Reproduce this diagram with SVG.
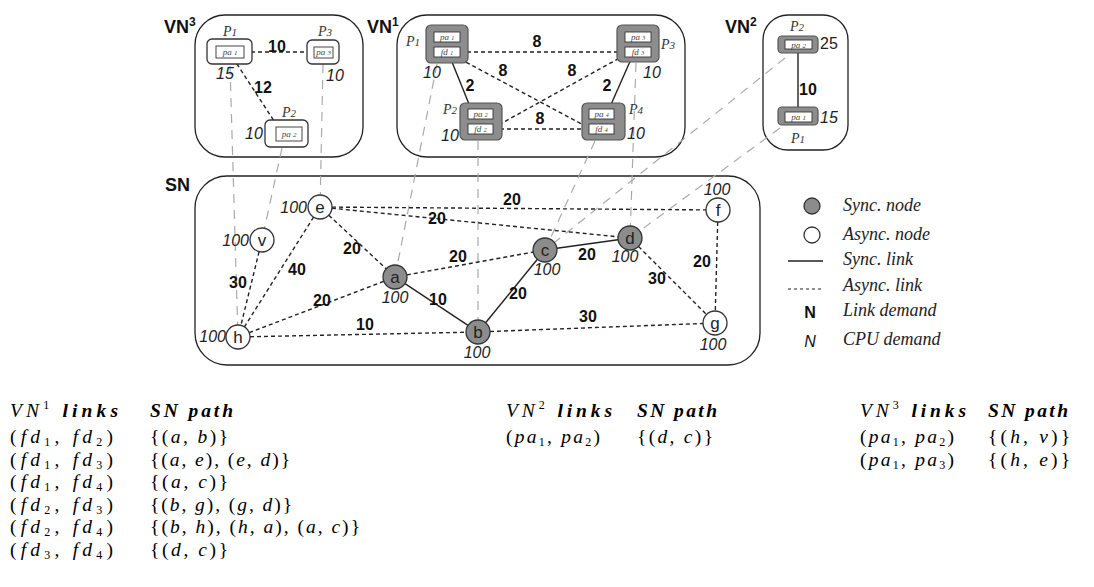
<svg xmlns="http://www.w3.org/2000/svg" width="1094" height="587" viewBox="0 0 1094 587">
<style>
.bg{fill:#fff}
.cont{fill:none;stroke:#222;stroke-width:1.3}
.title{font-family:"Liberation Sans",Arial,sans-serif;font-weight:bold;font-size:18px;fill:#111}
.sup{font-size:12px}
.wbox{fill:#fff;stroke:#333;stroke-width:1.3}
.gbox{fill:#8d8d8d;stroke:#555;stroke-width:1.2}
.ibox{fill:#fff;stroke:#333;stroke-width:0.9}
.plab{font-family:"Liberation Serif","DejaVu Serif",serif;font-style:italic;font-size:14px;fill:#333;text-anchor:middle}
.pin{font-family:"Liberation Serif","DejaVu Serif",serif;font-style:italic;font-size:9px;fill:#444;text-anchor:middle}
.cpu{font-family:"Liberation Sans",Arial,sans-serif;font-style:italic;font-size:16px;fill:#222}
.lnk{font-family:"Liberation Sans",Arial,sans-serif;font-weight:bold;font-size:16px;fill:#111;text-anchor:middle}
.sync{fill:#8c8c8c;stroke:#333;stroke-width:1.3}
.async{fill:#fff;stroke:#333;stroke-width:1.3}
.nl{font-family:"Liberation Sans",Arial,sans-serif;font-size:17px;fill:#222;text-anchor:middle}
.solid{stroke:#222;stroke-width:1.4;fill:none}
.dash{stroke:#222;stroke-width:1.4;fill:none;stroke-dasharray:4 3}
.map{stroke:#aaa;stroke-width:1.2;fill:none;stroke-dasharray:9 7}
.leg{font-family:"Liberation Serif","DejaVu Serif",serif;font-style:italic;font-size:18px;fill:#222}
.m{font-family:"Liberation Serif","DejaVu Serif",serif;font-size:19.5px;fill:#000}
.mi{font-style:italic}
.sub{font-size:12px}
.hb{font-weight:bold;font-style:italic}
</style>
<rect class="bg" x="0" y="0" width="1094" height="587"/>

<!-- containers -->
<g id="vn3">
  <rect class="cont" x="195" y="15" width="168" height="142" rx="30"/>
  <text class="title" x="164" y="33">VN<tspan class="sup" dy="-7">3</tspan></text>
</g>
<g id="vn1">
  <rect class="cont" x="397" y="15" width="288" height="142" rx="30"/>
  <text class="title" x="367" y="33">VN<tspan class="sup" dy="-7">1</tspan></text>
</g>
<g id="vn2">
  <rect class="cont" x="763" y="15" width="85" height="135" rx="25"/>
  <text class="title" x="725" y="33">VN<tspan class="sup" dy="-7">2</tspan></text>
</g>
<g id="sn">
  <rect class="cont" x="195" y="176" width="565" height="189" rx="32"/>
  <text class="title" x="165" y="191">SN</text>
</g>

<!-- connectors -->
<g id="connectors">
  <!-- mapping lines -->
  <line class="map" x1="230" y1="66" x2="237.6" y2="325"/>
  <line class="map" x1="323" y1="64" x2="320.3" y2="195"/>
  <line class="map" x1="282" y1="148" x2="264.5" y2="228.3"/>
  <line class="map" x1="437" y1="64" x2="397.3" y2="265.2"/>
  <line class="map" x1="478" y1="141" x2="478" y2="320"/>
  <line class="map" x1="595" y1="141" x2="550" y2="239.1"/>
  <line class="map" x1="636" y1="63" x2="630.4" y2="226"/>
  <line class="map" x1="785" y1="58" x2="554.4" y2="242.5"/>
  <line class="map" x1="780" y1="128" x2="639.7" y2="230.9"/>
  <!-- VN3 links -->
  <line class="dash" x1="244" y1="52" x2="314" y2="52"/>
  <line class="dash" x1="233" y1="58" x2="278" y2="127"/>
  <!-- VN1 links -->
  <line class="dash" x1="460" y1="52" x2="625" y2="52"/>
  <line class="solid" x1="450" y1="57" x2="471" y2="109"/>
  <line class="solid" x1="632" y1="57" x2="609" y2="109"/>
  <line class="dash" x1="460" y1="59" x2="589" y2="128"/>
  <line class="dash" x1="625" y1="55" x2="493" y2="128"/>
  <line class="dash" x1="493" y1="129" x2="589" y2="129"/>
  <!-- VN2 link -->
  <line class="solid" x1="798" y1="49" x2="798" y2="112"/>
  <!-- SN links -->
  <line class="dash" x1="332" y1="207.1" x2="706" y2="209.9"/>
  <line class="dash" x1="331.9" y1="208.2" x2="618.1" y2="236.8"/>
  <line class="dash" x1="328.8" y1="215.2" x2="386.2" y2="268.8"/>
  <line class="dash" x1="313.6" y1="217.1" x2="244.4" y2="326.9"/>
  <line class="dash" x1="259.1" y1="251.7" x2="240.9" y2="325.3"/>
  <line class="dash" x1="249.2" y1="332.7" x2="383.8" y2="281.3"/>
  <line class="dash" x1="250" y1="336.75" x2="466" y2="332.25"/>
  <line class="solid" x1="405" y1="283.6" x2="468" y2="325.4"/>
  <line class="dash" x1="406.8" y1="274.9" x2="533.2" y2="252.1"/>
  <line class="solid" x1="485.6" y1="322.7" x2="537.4" y2="259.3"/>
  <line class="solid" x1="556.9" y1="248.3" x2="618.1" y2="239.7"/>
  <line class="dash" x1="638.5" y1="246.5" x2="706.5" y2="314.5"/>
  <line class="dash" x1="717.7" y1="222" x2="715.3" y2="311"/>
  <line class="dash" x1="490" y1="331.5" x2="703" y2="323.5"/>
  <!-- link labels -->
  <text class="lnk" x="277" y="52">10</text>
  <text class="lnk" x="263" y="93">12</text>
  <text class="lnk" x="537" y="47">8</text>
  <text class="lnk" x="503" y="76">8</text>
  <text class="lnk" x="572" y="76">8</text>
  <text class="lnk" x="540" y="124">8</text>
  <text class="lnk" x="470" y="91">2</text>
  <text class="lnk" x="607" y="91">2</text>
  <text class="lnk" x="808" y="95">10</text>
  <text class="lnk" x="512" y="205">20</text>
  <text class="lnk" x="437" y="224">20</text>
  <text class="lnk" x="352" y="254">20</text>
  <text class="lnk" x="297" y="275">40</text>
  <text class="lnk" x="238" y="288">30</text>
  <text class="lnk" x="322" y="306">20</text>
  <text class="lnk" x="365" y="330">10</text>
  <text class="lnk" x="438" y="305">10</text>
  <text class="lnk" x="458" y="262">20</text>
  <text class="lnk" x="518" y="299">20</text>
  <text class="lnk" x="587" y="260">20</text>
  <text class="lnk" x="657" y="284">30</text>
  <text class="lnk" x="702" y="267">20</text>
  <text class="lnk" x="588" y="322">30</text>
</g>

<!-- VN3 nodes -->
<g id="vn3-p1">
  <rect class="wbox" x="207" y="39" width="45" height="25" rx="5"/>
  <rect class="ibox" x="216" y="46" width="28" height="12"/>
  <text class="pin" x="230" y="55">pa <tspan font-size="7">1</tspan></text>
  <text class="plab" x="230" y="36">P<tspan font-size="11">1</tspan></text>
  <text class="cpu" x="225" y="79" text-anchor="middle">15</text>
</g>
<g id="vn3-p3">
  <rect class="wbox" x="307" y="40" width="32" height="24" rx="5"/>
  <rect class="ibox" x="314" y="47" width="19" height="11"/>
  <text class="pin" x="323.5" y="55">pa <tspan font-size="7">3</tspan></text>
  <text class="plab" x="325" y="36">P<tspan font-size="11">3</tspan></text>
  <text class="cpu" x="335" y="81" text-anchor="middle">10</text>
</g>
<g id="vn3-p2">
  <rect class="wbox" x="265" y="120" width="43" height="27" rx="5"/>
  <rect class="ibox" x="276" y="127" width="26" height="14"/>
  <text class="pin" x="289" y="137">pa <tspan font-size="7">2</tspan></text>
  <text class="plab" x="289" y="117">P<tspan font-size="11">2</tspan></text>
  <text class="cpu" x="254" y="139" text-anchor="middle">10</text>
</g>

<!-- VN1 nodes -->
<g id="vn1-p1">
  <rect class="gbox" x="426" y="25" width="42" height="38" rx="5"/>
  <rect class="ibox" x="434" y="32" width="26" height="10"/>
  <rect class="ibox" x="434" y="47" width="26" height="10"/>
  <text class="pin" x="447" y="40" font-size="8">pa <tspan font-size="6">1</tspan></text>
  <text class="pin" x="447" y="55" font-size="8">fd <tspan font-size="6">1</tspan></text>
  <text class="plab" x="413" y="46">P<tspan font-size="11">1</tspan></text>
  <text class="cpu" x="432" y="78" text-anchor="middle">10</text>
</g>
<g id="vn1-p3">
  <rect class="gbox" x="617" y="25" width="42" height="37" rx="5"/>
  <rect class="ibox" x="625" y="32" width="26" height="10"/>
  <rect class="ibox" x="625" y="47" width="26" height="10"/>
  <text class="pin" x="638" y="40" font-size="8">pa <tspan font-size="6">3</tspan></text>
  <text class="pin" x="638" y="55" font-size="8">fd <tspan font-size="6">3</tspan></text>
  <text class="plab" x="668" y="49">P<tspan font-size="11">3</tspan></text>
  <text class="cpu" x="652" y="78" text-anchor="middle">10</text>
</g>
<g id="vn1-p2">
  <rect class="gbox" x="460" y="103" width="42" height="37" rx="5"/>
  <rect class="ibox" x="468" y="109" width="25" height="10"/>
  <rect class="ibox" x="468" y="124" width="25" height="10"/>
  <text class="pin" x="480.5" y="117" font-size="8">pa <tspan font-size="6">2</tspan></text>
  <text class="pin" x="480.5" y="132" font-size="8">fd <tspan font-size="6">2</tspan></text>
  <text class="plab" x="450" y="114">P<tspan font-size="11">2</tspan></text>
  <text class="cpu" x="450" y="141" text-anchor="middle">10</text>
</g>
<g id="vn1-p4">
  <rect class="gbox" x="582" y="103" width="43" height="37" rx="5"/>
  <rect class="ibox" x="589" y="109" width="25" height="10"/>
  <rect class="ibox" x="589" y="124" width="25" height="10"/>
  <text class="pin" x="601.5" y="117" font-size="8">pa <tspan font-size="6">4</tspan></text>
  <text class="pin" x="601.5" y="132" font-size="8">fd <tspan font-size="6">4</tspan></text>
  <text class="plab" x="636" y="114">P<tspan font-size="11">4</tspan></text>
  <text class="cpu" x="636" y="139" text-anchor="middle">10</text>
</g>

<!-- VN2 nodes -->
<g id="vn2-p2">
  <rect class="gbox" x="778" y="36" width="40" height="17" rx="4"/>
  <rect class="ibox" x="785" y="40" width="27" height="9"/>
  <text class="pin" x="798.5" y="48">pa <tspan font-size="7">2</tspan></text>
  <text class="plab" x="797" y="31">P<tspan font-size="11">2</tspan></text>
  <text x="820" y="49" font-family="Liberation Sans,Arial,sans-serif" font-size="16" fill="#222">25</text>
</g>
<g id="vn2-p1">
  <rect class="gbox" x="778" y="107" width="40" height="18" rx="4"/>
  <rect class="ibox" x="785" y="112" width="27" height="10"/>
  <text class="pin" x="798.5" y="120">pa <tspan font-size="7">1</tspan></text>
  <text class="plab" x="798" y="143">P<tspan font-size="11">1</tspan></text>
  <text class="cpu" x="820" y="123">15</text>
</g>

<!-- SN nodes -->
<g id="sn-e"><circle class="async" cx="320" cy="207" r="12"/><text class="nl" x="320" y="213">e</text><text class="cpu" x="307" y="213" text-anchor="end">100</text></g>
<g id="sn-v"><circle class="async" cx="262" cy="240" r="12"/><text class="nl" x="262" y="246">v</text><text class="cpu" x="249" y="246" text-anchor="end">100</text></g>
<g id="sn-h"><circle class="async" cx="238" cy="337" r="12"/><text class="nl" x="238" y="343">h</text><text class="cpu" x="226" y="342" text-anchor="end">100</text></g>
<g id="sn-a"><circle class="sync" cx="395" cy="277" r="12"/><text class="nl" x="395" y="283">a</text><text class="cpu" x="395" y="303" text-anchor="middle">100</text></g>
<g id="sn-b"><circle class="sync" cx="478" cy="332" r="12"/><text class="nl" x="478" y="338">b</text><text class="cpu" x="477" y="358" text-anchor="middle">100</text></g>
<g id="sn-c"><circle class="sync" cx="545" cy="250" r="12"/><text class="nl" x="545" y="256">c</text><text class="cpu" x="547" y="275" text-anchor="middle">100</text></g>
<g id="sn-d"><circle class="sync" cx="630" cy="238" r="12"/><text class="nl" x="630" y="244">d</text><text class="cpu" x="625" y="262" text-anchor="middle">100</text></g>
<g id="sn-f"><circle class="async" cx="718" cy="210" r="12"/><text class="nl" x="718" y="216">f</text><text class="cpu" x="717" y="195" text-anchor="middle">100</text></g>
<g id="sn-g"><circle class="async" cx="715" cy="323" r="12"/><text class="nl" x="715" y="329">g</text><text class="cpu" x="713" y="350" text-anchor="middle">100</text></g>

<!-- legend -->
<g id="legend">
  <circle class="sync" cx="812" cy="206" r="8"/>
  <text class="leg" x="843" y="211">Sync. node</text>
  <circle class="async" cx="812" cy="235" r="8"/>
  <text class="leg" x="843" y="240">Async. node</text>
  <line class="solid" x1="788" y1="261" x2="823" y2="261"/>
  <text class="leg" x="843" y="265">Sync. link</text>
  <line stroke="#222" stroke-width="1.2" stroke-dasharray="3 3" x1="788" y1="289" x2="823" y2="289"/>
  <text class="leg" x="843" y="291">Async. link</text>
  <text x="810" y="318" text-anchor="middle" font-family="Liberation Sans,Arial,sans-serif" font-weight="bold" font-size="16" fill="#111">N</text>
  <text class="leg" x="843" y="316">Link demand</text>
  <text x="810" y="347" text-anchor="middle" font-family="Liberation Sans,Arial,sans-serif" font-style="italic" font-size="16" fill="#111">N</text>
  <text class="leg" x="843" y="345">CPU demand</text>
</g>

<!-- tables -->
<g id="table-vn1">
  <text class="m" x="10" y="417" textLength="108"><tspan class="mi">VN</tspan><tspan class="sub" dy="-8">1</tspan><tspan class="hb" dy="8"> links</tspan></text>
  <text class="m hb" x="150" y="417" textLength="83">SN path</text>
  <text class="m" x="10" y="443" textLength="103">(<tspan class="mi">fd</tspan><tspan class="sub" dy="3">1</tspan><tspan dy="-3">, </tspan><tspan class="mi">fd</tspan><tspan class="sub" dy="3">2</tspan><tspan dy="-3">)</tspan></text>
  <text class="m" x="10" y="465.5" textLength="103">(<tspan class="mi">fd</tspan><tspan class="sub" dy="3">1</tspan><tspan dy="-3">, </tspan><tspan class="mi">fd</tspan><tspan class="sub" dy="3">3</tspan><tspan dy="-3">)</tspan></text>
  <text class="m" x="10" y="488" textLength="103">(<tspan class="mi">fd</tspan><tspan class="sub" dy="3">1</tspan><tspan dy="-3">, </tspan><tspan class="mi">fd</tspan><tspan class="sub" dy="3">4</tspan><tspan dy="-3">)</tspan></text>
  <text class="m" x="10" y="510.5" textLength="103">(<tspan class="mi">fd</tspan><tspan class="sub" dy="3">2</tspan><tspan dy="-3">, </tspan><tspan class="mi">fd</tspan><tspan class="sub" dy="3">3</tspan><tspan dy="-3">)</tspan></text>
  <text class="m" x="10" y="533" textLength="103">(<tspan class="mi">fd</tspan><tspan class="sub" dy="3">2</tspan><tspan dy="-3">, </tspan><tspan class="mi">fd</tspan><tspan class="sub" dy="3">4</tspan><tspan dy="-3">)</tspan></text>
  <text class="m" x="10" y="555.5" textLength="103">(<tspan class="mi">fd</tspan><tspan class="sub" dy="3">3</tspan><tspan dy="-3">, </tspan><tspan class="mi">fd</tspan><tspan class="sub" dy="3">4</tspan><tspan dy="-3">)</tspan></text>
  <text class="m" x="150" y="443" textLength="78">{(<tspan class="mi">a</tspan>, <tspan class="mi">b</tspan>)}</text>
  <text class="m" x="150" y="465.5" textLength="140">{(<tspan class="mi">a</tspan>, <tspan class="mi">e</tspan>), (<tspan class="mi">e</tspan>, <tspan class="mi">d</tspan>)}</text>
  <text class="m" x="150" y="488" textLength="78">{(<tspan class="mi">a</tspan>, <tspan class="mi">c</tspan>)}</text>
  <text class="m" x="150" y="510.5" textLength="142">{(<tspan class="mi">b</tspan>, <tspan class="mi">g</tspan>), (<tspan class="mi">g</tspan>, <tspan class="mi">d</tspan>)}</text>
  <text class="m" x="150" y="533" textLength="210">{(<tspan class="mi">b</tspan>, <tspan class="mi">h</tspan>), (<tspan class="mi">h</tspan>, <tspan class="mi">a</tspan>), (<tspan class="mi">a</tspan>, <tspan class="mi">c</tspan>)}</text>
  <text class="m" x="150" y="555.5" textLength="78">{(<tspan class="mi">d</tspan>, <tspan class="mi">c</tspan>)}</text>
</g>
<g id="table-vn2">
  <text class="m" x="506" y="417" textLength="106"><tspan class="mi">VN</tspan><tspan class="sub" dy="-8">2</tspan><tspan class="hb" dy="8"> links</tspan></text>
  <text class="m hb" x="637" y="417" textLength="80">SN path</text>
  <text class="m" x="506" y="443" textLength="94">(<tspan class="mi">pa</tspan><tspan class="sub" dy="3">1</tspan><tspan dy="-3">, </tspan><tspan class="mi">pa</tspan><tspan class="sub" dy="3">2</tspan><tspan dy="-3">)</tspan></text>
  <text class="m" x="637" y="443" textLength="76">{(<tspan class="mi">d</tspan>, <tspan class="mi">c</tspan>)}</text>
</g>
<g id="table-vn3">
  <text class="m" x="860" y="417" textLength="106"><tspan class="mi">VN</tspan><tspan class="sub" dy="-8">3</tspan><tspan class="hb" dy="8"> links</tspan></text>
  <text class="m hb" x="988" y="417" textLength="80">SN path</text>
  <text class="m" x="860" y="443" textLength="94">(<tspan class="mi">pa</tspan><tspan class="sub" dy="3">1</tspan><tspan dy="-3">, </tspan><tspan class="mi">pa</tspan><tspan class="sub" dy="3">2</tspan><tspan dy="-3">)</tspan></text>
  <text class="m" x="860" y="465.5" textLength="94">(<tspan class="mi">pa</tspan><tspan class="sub" dy="3">1</tspan><tspan dy="-3">, </tspan><tspan class="mi">pa</tspan><tspan class="sub" dy="3">3</tspan><tspan dy="-3">)</tspan></text>
  <text class="m" x="988" y="443" textLength="82">{(<tspan class="mi">h</tspan>, <tspan class="mi">v</tspan>)}</text>
  <text class="m" x="988" y="465.5" textLength="82">{(<tspan class="mi">h</tspan>, <tspan class="mi">e</tspan>)}</text>
</g>
</svg>
